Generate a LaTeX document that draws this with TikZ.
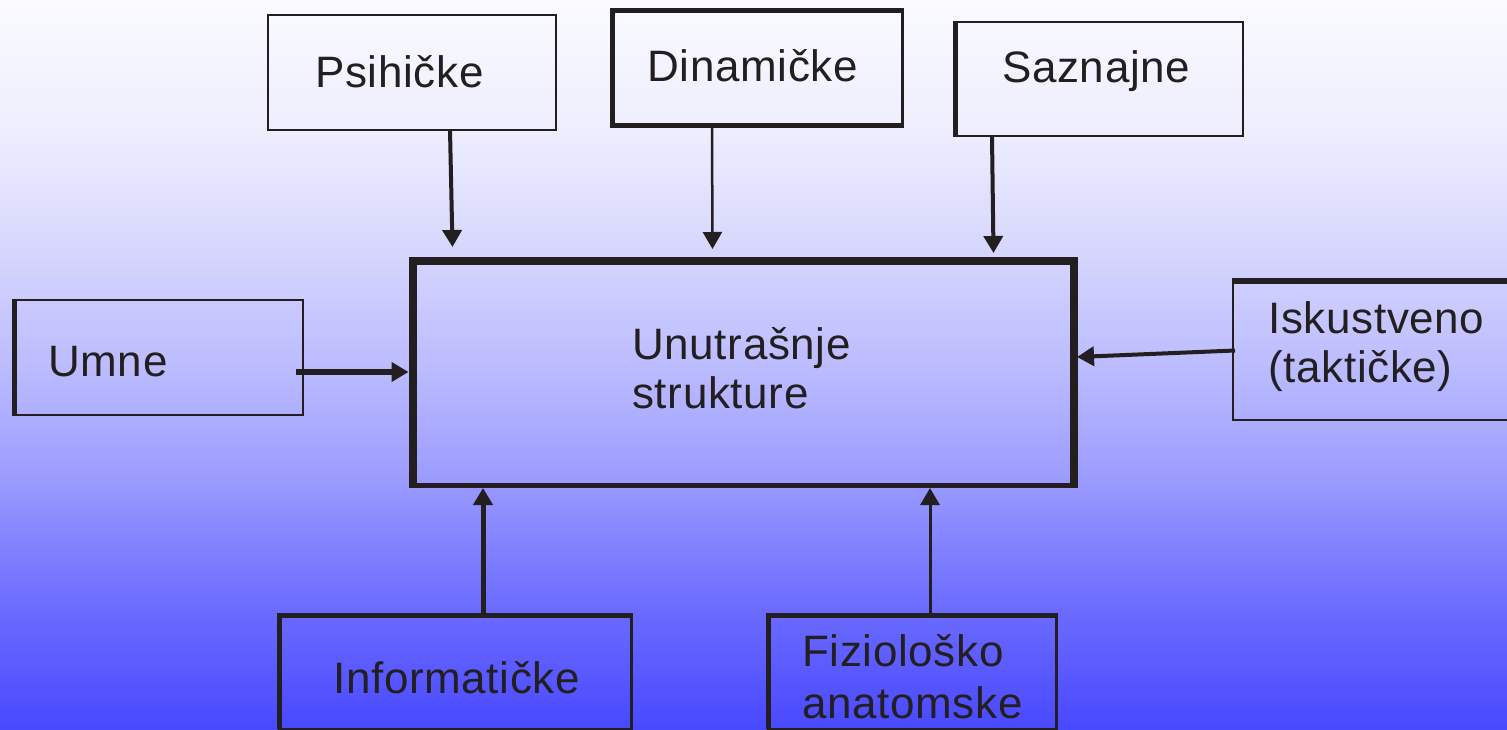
\documentclass[tikz,border=0pt]{standalone}
\usepackage{fontspec}
\setmainfont{Liberation Sans}[LetterSpace=1.5]
\usetikzlibrary{arrows.meta}

\definecolor{ink}{RGB}{35,31,32}
\definecolor{bgTop}{RGB}{250,250,255}
\definecolor{bgA}{RGB}{238,238,254}
\definecolor{bgB}{RGB}{214,214,253}
\definecolor{bgC}{RGB}{188,188,255}
\definecolor{bgD}{RGB}{158,158,255}
\definecolor{bgE}{RGB}{110,110,255}
\definecolor{bgF}{RGB}{72,72,255}

% slide background: pale at the top, saturated blue at the bottom
\pgfdeclareverticalshading{slidebg}{100bp}{%
  color(0bp)=(bgF); color(25bp)=(bgF); color(33.9bp)=(bgE);
  color(42.8bp)=(bgD); color(50bp)=(bgC); color(57.9bp)=(bgB);
  color(66.1bp)=(bgA); color(75bp)=(bgTop); color(100bp)=(bgTop)}

\begin{document}
\begin{tikzpicture}[x=1pt,y=-1pt,
  box/.style={draw=ink, line width=2.5pt, rectangle, inner sep=0pt,
              outer sep=0pt, anchor=north west},
  heavy/.style={draw=ink, line width=5pt, line join=miter, line cap=butt},
  lbl/.style={text=ink, inner sep=0pt, anchor=base west,
              font=\fontsize{44}{49}\selectfont},
  flow/.style={draw=ink, -{Triangle[length=17pt,width=19pt]}}
]
\useasboundingbox (0,0) rectangle (1507,730);
\fill[shading=slidebg] (0,0) rectangle (1507,730);

% boxes
\node[box, minimum width=288pt,   minimum height=115pt]   (psi)  at (268,15) {};
\node[box, line width=3pt, minimum width=290pt, minimum height=115.5pt] (din) at (612,10.5) {};
\node[box, minimum width=287.5pt, minimum height=114pt]   (saz)  at (955.5,22) {};
\node[box, minimum width=289pt,   minimum height=115pt]   (umn)  at (14,300) {};
\node[box, line width=5pt, minimum width=661.5pt, minimum height=224pt] (main) at (412.5,261) {};
\node[box, minimum width=280pt,   minimum height=139pt]   (isk)  at (1233,281) {};
\node[box, line width=3pt, minimum width=351.5pt, minimum height=113.5pt] (inf) at (279.5,615.5) {};
\node[box, line width=3pt, minimum width=287.5pt, minimum height=113.5pt] (fiz) at (768.5,615.5) {};

% heavier sides
\draw[heavy] ([xshift=1.5pt]din.north east) -- (din.north west) -- (din.south west) -- ([xshift=1.5pt]din.south east);
\draw[heavy] ([yshift=1.25pt]saz.north west) -- ([yshift=-1.25pt]saz.south west);
\draw[heavy] ([yshift=1.25pt]umn.north west) -- ([yshift=-1.25pt]umn.south west);
\draw[heavy, line width=6pt] ([xshift=-1.25pt]isk.north west) -- ([xshift=4pt]isk.north east);
\draw[heavy] (inf.south west) -- (inf.north west) -- ([xshift=1.5pt]inf.north east);
\draw[heavy] (fiz.south west) -- (fiz.north west) -- ([xshift=1.5pt]fiz.north east);
\draw[heavy, line width=8pt] ([yshift=-2.5pt]main.south west) -- (main.north west) -- (main.north east) -- ([yshift=-2.5pt]main.south east);

% labels
\node[lbl] (tpsi)  at (315,88)   {Psihičke};
\node[lbl] (tdin)  at (647,82)   {Dinamičke};
\node[lbl] (tsaz)  at (1002,83)  {Saznajne};
\node[lbl] (tumn)  at (48,376)   {Umne};
\node[lbl] (tmain) at (632,359)  {Unutrašnje};
\node[lbl] (tmain2) at (632,408) {strukture};
\node[lbl] (tisk)  at (1268,333) {Iskustveno};
\node[lbl] (tisk2) at (1268,382) {(taktičke)};
\node[lbl] (tinf)  at (333,693)  {Informatičke};
\node[lbl] (tfiz)  at (802,666)  {Fiziološko};
\node[lbl] (tfiz2) at (802,718)  {anatomske};

% connectors into the central box
\draw[flow, line width=4pt]   ([xshift=182pt]psi.south west) -- ([xshift=40pt,yshift=14pt]main.north west);
\draw[flow, line width=2.5pt] ([xshift=100pt]din.south west) -- ([xshift=300pt,yshift=12pt]main.north west);
\draw[flow, line width=4pt]   ([xshift=36.5pt]saz.south west) -- ([xshift=581pt,yshift=8pt]main.north west);
\draw[flow, line width=6pt]   ([xshift=-7pt,yshift=-14.5pt]umn.east) -- ([xshift=-4pt,yshift=1pt]main.west);
\draw[flow, line width=4pt]   ([xshift=2pt]isk.west) -- ([xshift=3pt,yshift=16pt]main.east);
\draw[flow, line width=5pt]   ([xshift=203.5pt]inf.north west) -- ([xshift=70.5pt,yshift=-3pt]main.south west);
\draw[flow, line width=3pt]   ([xshift=161.5pt]fiz.north west) -- ([xshift=517.5pt,yshift=-3pt]main.south west);
\end{tikzpicture}
\end{document}
